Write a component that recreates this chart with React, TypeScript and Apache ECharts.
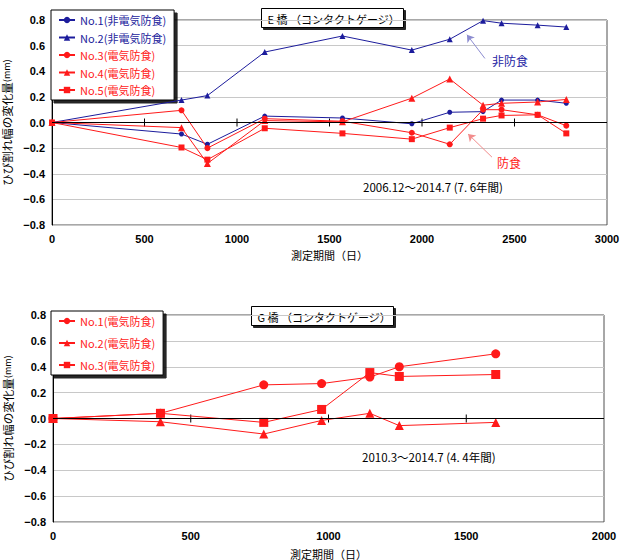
import React, { useEffect, useRef } from "react";
import * as echarts from "echarts";

// E橋: measurement days and crack-width change (mm)
const daysE = [0, 700, 840, 1150, 1570, 1945, 2150, 2330, 2430, 2625, 2780];
const e1 = [0, -0.09, -0.17, 0.05, 0.035, -0.01, 0.08, 0.085, 0.175, 0.175, 0.15];
const e2 = [0, 0.175, 0.21, 0.55, 0.675, 0.565, 0.65, 0.795, 0.775, 0.76, 0.745];
const e3 = [0, 0.095, -0.2, 0.03, 0.01, -0.08, -0.17, 0.1, 0.1, 0.06, -0.025];
const e4 = [0, -0.04, -0.32, 0.015, 0.005, 0.19, 0.34, 0.135, 0.15, 0.16, 0.18];
const e5 = [0, -0.195, -0.29, -0.045, -0.085, -0.13, -0.04, 0.03, 0.055, 0.06, -0.085];

// G橋
const daysG = [0, 390, 765, 975, 1150, 1257, 1607];
const g1 = [0, 0.04, 0.26, 0.27, 0.32, 0.4, 0.5];
const g2 = [0, -0.025, -0.12, -0.015, 0.04, -0.055, -0.03];
const g3 = [0, 0.04, -0.03, 0.07, 0.355, 0.325, 0.34];

const ticksE = [500, 1000, 1500, 2000, 2500];
const ticksG = [500, 1000, 1500];

const labelsE = {
  E1: "No.1(非電気防食)",
  E2: "No.2(非電気防食)",
  E3: "No.3(電気防食)",
  E4: "No.4(電気防食)",
  E5: "No.5(電気防食)",
};
const labelsG = { G1: "No.1(電気防食)", G2: "No.2(電気防食)", G3: "No.3(電気防食)" };

const BLUE = "#1c1c9c";
const RED = "#ff1a1a";
const FONT = "'Liberation Sans Narrow', 'Liberation Sans', 'Noto Sans CJK JP', sans-serif";
const JP = "'Noto Sans CJK JP', sans-serif";

const pair = (xs: number[], ys: number[]) => xs.map((x, i) => [x, ys[i]]);

function lineSeries(
  name: string,
  xs: number[],
  ys: number[],
  color: string,
  symbol: string,
  size: number,
  idx: number,
  extra: any = {}
) {
  return {
    type: "line",
    name,
    xAxisIndex: idx,
    yAxisIndex: idx,
    data: pair(xs, ys),
    symbol,
    symbolSize: size,
    color,
    lineStyle: { color, width: 1 },
    itemStyle: { color },
    z: 4,
    ...extra,
  };
}

function tickSeries(ticks: number[], idx: number) {
  return {
    type: "custom",
    xAxisIndex: idx,
    yAxisIndex: idx,
    silent: true,
    z: 3,
    encode: { x: 0, y: 1 },
    data: ticks.map((t) => [t, 0]),
    renderItem: (_p: any, api: any) => {
      const c = api.coord([api.value(0), 0]);
      return {
        type: "line",
        shape: { x1: c[0], y1: c[1] - 4, x2: c[0], y2: c[1] + 4 },
        style: { stroke: "#000", lineWidth: 1 },
      };
    },
  };
}

const zeroLine = {
  silent: true,
  symbol: ["none", "none"],
  label: { show: false },
  lineStyle: { color: "#000", width: 1, type: "solid" },
  data: [{ yAxis: 0 }],
};

function arrow(color: string, from: number[], to: number[]) {
  return {
    silent: true,
    symbol: ["none", "arrow"],
    symbolSize: 7,
    label: { show: false },
    lineStyle: { color, width: 1, type: "solid" },
    data: [[{ coord: from }, { coord: to }]],
  };
}

const fmtY = (v: number) => v.toFixed(1).replace("-", "−");
const fmtX = (v: number) => String(v);

function titleBox(x: number, y: number, w: number, text: string) {
  return {
    type: "group",
    left: x,
    top: y,
    z: 10,
    children: [
      {
        type: "rect",
        shape: { x: 0, y: 0, width: w, height: 19 },
        style: {
          fill: "#fff",
          stroke: "#000",
          lineWidth: 1,
          shadowColor: "rgba(0,0,0,0.85)",
          shadowOffsetX: 2,
          shadowOffsetY: 2,
          shadowBlur: 1,
        },
      },
      {
        type: "text",
        x: 6,
        y: 10,
        style: {
          text,
          fill: "#000",
          font: `11px ${JP}`,
          verticalAlign: "middle",
        },
      },
    ],
  };
}

function legend(names: Record<string, string>, colors: string[], left: number, top: number, gap: number) {
  return {
    orient: "vertical",
    left,
    top,
    padding: [4, 8, 4, 7],
    itemWidth: 16,
    itemHeight: 8,
    itemGap: gap,
    backgroundColor: "#fff",
    borderColor: "#000",
    borderWidth: 1,
    borderRadius: 0,
    shadowColor: "rgba(0,0,0,0.85)",
    shadowOffsetX: 3,
    shadowOffsetY: 3,
    shadowBlur: 1,
    selectedMode: false,
    formatter: (n: string) => names[n],
    textStyle: { fontSize: 11, fontFamily: JP, lineHeight: 12 },
    data: Object.keys(names).map((k, i) => ({ name: k, textStyle: { color: colors[i] } })),
  };
}

function xAxis(idx: number, max: number, gap: number) {
  return {
    gridIndex: idx,
    type: "value",
    min: 0,
    max,
    interval: 500,
    axisLine: { show: false },
    axisTick: { show: false },
    splitLine: { show: false },
    axisLabel: { formatter: fmtX, margin: 8, fontSize: 11, color: "#000", fontFamily: FONT, fontWeight: "bold" },
    name: "測定期間（日）",
    nameLocation: "middle",
    nameGap: gap,
    nameTextStyle: { fontSize: 11, color: "#000", fontFamily: JP },
  };
}

function yAxis(idx: number) {
  return {
    gridIndex: idx,
    type: "value",
    min: -0.8,
    max: 0.8,
    interval: 0.2,
    axisLine: { show: true, onZero: false, lineStyle: { color: "#000", width: 1 } },
    axisTick: { show: false },
    splitLine: { show: true, lineStyle: { color: "#c8c8c8", width: 1 } },
    axisLabel: { formatter: fmtY, margin: 7, fontSize: 11, color: "#000", fontFamily: FONT, fontWeight: "bold" },
    name: "{a|ひび割れ幅の変化量}{b|(mm)}",
    nameLocation: "middle",
    nameGap: 37,
    nameTextStyle: {
      color: "#000",
      rich: {
        a: { fontSize: 11.5, fontFamily: JP, color: "#000" },
        b: { fontSize: 9, fontFamily: JP, color: "#000" },
      },
    },
  };
}

export default function App() {
  const ref = useRef<HTMLDivElement>(null);

  useEffect(() => {
    if (!ref.current) return;
    const chart = echarts.init(ref.current, null, { renderer: "svg" });
    const gridStyle = {
      show: true,
      borderColor: "#505050",
      borderWidth: 1,
      backgroundColor: "#fff",
      containLabel: false,
      outerBoundsMode: "none",
    };
    chart.setOption({
      animation: false,
      backgroundColor: "#fff",
      grid: [
        { left: 52, top: 20, width: 555, height: 205, ...gridStyle },
        { left: 53, top: 315, width: 551, height: 207, ...gridStyle },
      ],
      xAxis: [xAxis(0, 3000, 24), xAxis(1, 2000, 26)],
      yAxis: [yAxis(0), yAxis(1)],
      legend: [
        legend(labelsE, [BLUE, BLUE, RED, RED, RED], 51, 10, 5.5),
        legend(labelsG, [RED, RED, RED], 51, 311, 10),
      ],
      series: [
        lineSeries("E1", daysE, e1, BLUE, "circle", 5, 0, { markLine: zeroLine }),
        lineSeries("E2", daysE, e2, BLUE, "triangle", 6, 0, {
          markLine: arrow("#8c8cd0", [2340, 0.5], [2243, 0.685]),
        }),
        lineSeries("E3", daysE, e3, RED, "circle", 6, 0, {
          markLine: arrow("#f28c8c", [2378, -0.27], [2249, -0.09]),
        }),
        lineSeries("E4", daysE, e4, RED, "triangle", 7, 0),
        lineSeries("E5", daysE, e5, RED, "rect", 6, 0),
        tickSeries(ticksE, 0),
        lineSeries("G1", daysG, g1, RED, "circle", 9, 1, { markLine: zeroLine }),
        lineSeries("G2", daysG, g2, RED, "triangle", 9, 1),
        lineSeries("G3", daysG, g3, RED, "rect", 9, 1),
        tickSeries(ticksG, 1),
      ],
      graphic: [
        titleBox(261, 8, 142, "E 橋 （コンタクトゲージ）"),
        titleBox(251, 306, 142, "G 橋 （コンタクトゲージ）"),
        {
          type: "text",
          left: 492,
          top: 54,
          style: { text: "非防食", fill: "#2424a4", font: `12px ${JP}` },
        },
        {
          type: "text",
          left: 497,
          top: 156,
          style: { text: "防食", fill: RED, font: `12px ${JP}` },
        },
        {
          type: "text",
          left: 363,
          top: 181,
          style: { text: "2006.12～2014.7 (7. 6年間)", fill: "#000", font: `11.5px ${JP}` },
        },
        {
          type: "text",
          left: 362,
          top: 451,
          style: { text: "2010.3～2014.7 (4. 4年間)", fill: "#000", font: `11.5px ${JP}` },
        },
      ],
    });
    return () => chart.dispose();
  }, []);

  return (
    <div
      ref={ref}
      style={{ position: "fixed", left: 0, top: 0, width: 621, height: 560, background: "#fff" }}
    />
  );
}
